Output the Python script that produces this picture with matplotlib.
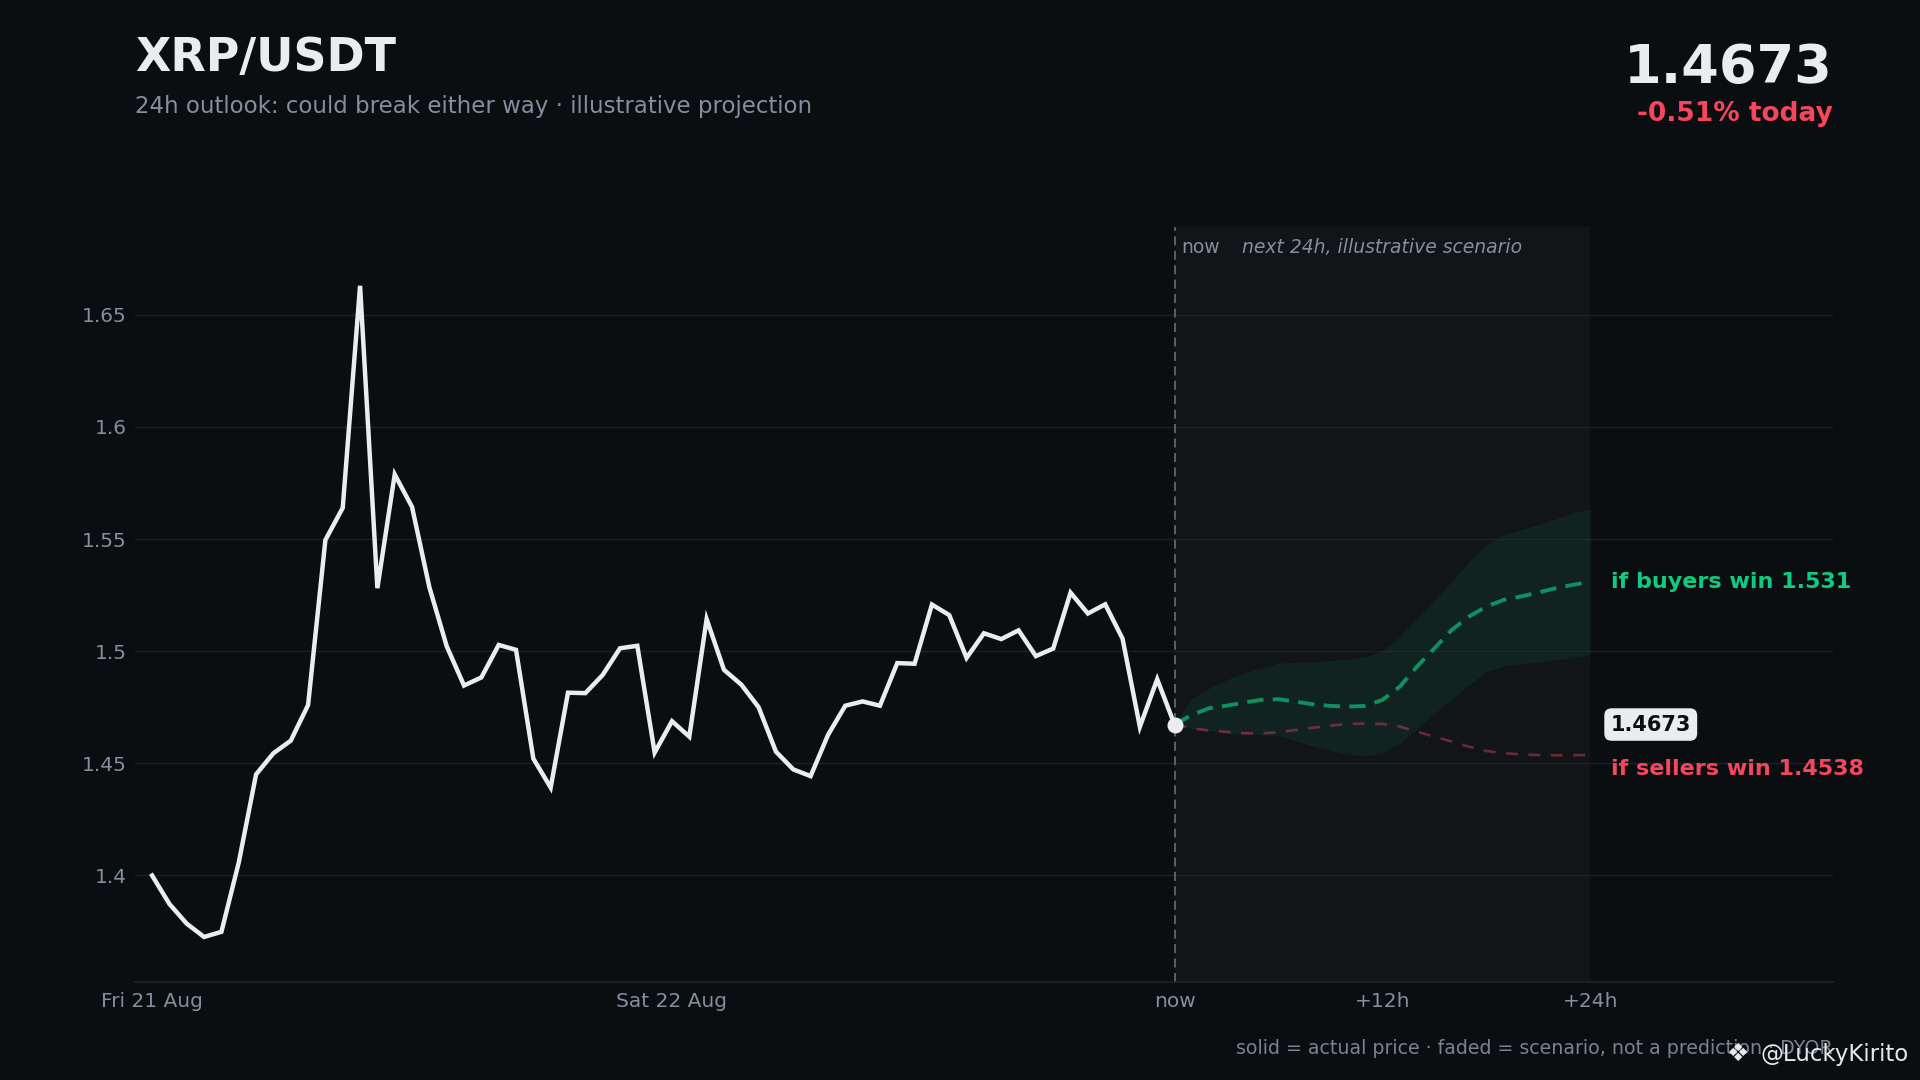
import numpy as np
import matplotlib
matplotlib.use("Agg")
import matplotlib.pyplot as plt
import matplotlib.transforms as mtransforms

# ---------------- data ----------------
price = [1.4000, 1.3873, 1.3785, 1.3726, 1.3749, 1.4058, 1.4451, 1.4545, 1.4601, 1.4760,
         1.5496, 1.5639, 1.6629, 1.5281, 1.5788, 1.5643, 1.5285, 1.5022, 1.4847, 1.4883,
         1.5028, 1.5006, 1.4521, 1.4392, 1.4815, 1.4813, 1.4894, 1.5013, 1.5024, 1.4548,
         1.4688, 1.4619, 1.5143, 1.4917, 1.4851, 1.4750, 1.4552, 1.4473, 1.4443, 1.4626,
         1.4757, 1.4776, 1.4757, 1.4947, 1.4944, 1.5208, 1.5161, 1.4970, 1.5080, 1.5054,
         1.5093, 1.4978, 1.5012, 1.5261, 1.5168, 1.5209, 1.5056, 1.4663, 1.4875, 1.4673]
price_hours = list(range(-59, 1))

future_hours = list(range(0, 25))
buyers = [1.4673, 1.4716, 1.4746, 1.4757, 1.4771, 1.4783, 1.4786, 1.4775, 1.4763, 1.4756,
          1.4753, 1.4756, 1.4783, 1.4842, 1.4932, 1.5013, 1.5095, 1.5155, 1.5199, 1.5229,
          1.5244, 1.5262, 1.5281, 1.5296, 1.5310]
sellers = [1.4673, 1.4656, 1.4646, 1.4640, 1.4634, 1.4634, 1.4638, 1.4649, 1.4659, 1.4668,
           1.4676, 1.4677, 1.4676, 1.4664, 1.4641, 1.4619, 1.4597, 1.4574, 1.4555, 1.4545,
           1.4540, 1.4537, 1.4536, 1.4536, 1.4538]
band_upper = [1.4673, 1.4790, 1.4835, 1.4872, 1.4902, 1.4924, 1.4946, 1.4951, 1.4954, 1.4958,
              1.4964, 1.4972, 1.5001, 1.5065, 1.5147, 1.5229, 1.5311, 1.5400, 1.5475, 1.5519,
              1.5542, 1.5564, 1.5589, 1.5616, 1.5634]
band_lower = [1.4673, 1.4656, 1.4646, 1.4637, 1.4631, 1.4628, 1.4622, 1.4601, 1.4577, 1.4557,
              1.4542, 1.4533, 1.4545, 1.4589, 1.4656, 1.4723, 1.4786, 1.4850, 1.4909, 1.4935,
              1.4943, 1.4952, 1.4961, 1.4972, 1.4984]

x_tick_pos = [-59, -29, 0, 12, 24]
x_tick_labels = ["Fri 21 Aug", "Sat 22 Aug", "now", "+12h", "+24h"]
y_tick_pos = [1.40, 1.45, 1.50, 1.55, 1.60, 1.65]
y_tick_labels = ["1.4", "1.45", "1.5", "1.55", "1.6", "1.65"]

symbol = "XRP/USDT"
subtitle = "24h outlook: could break either way · illustrative projection"
last_price = "1.4673"
change_text = "-0.51% today"
buyers_label = "if buyers win 1.531"
sellers_label = "if sellers win 1.4538"
footer = "solid = actual price · faded = scenario, not a prediction · DYOR"

# ---------------- style ----------------
BG = "#0b0e11"
GREY = "#848e9c"
WHITE = "#eaecef"
GREEN = "#0ecb81"
RED = "#f6465d"

plt.rcParams["font.family"] = ["DejaVu Sans"]

fig = plt.figure(figsize=(19.2, 10.8), dpi=100, facecolor=BG)
ax = fig.add_axes([0.0702, 0.0907, 0.8845, 0.6995])
ax.set_facecolor(BG)

ax.set_xlim(-60, 38)
ax.set_ylim(1.3525, 1.6893)

# grid
ax.set_yticks(y_tick_pos)
ax.set_yticklabels(y_tick_labels)
ax.set_xticks(x_tick_pos)
ax.set_xticklabels(x_tick_labels)
ax.grid(axis="y", color="#1b2026", linewidth=1.0)
ax.set_axisbelow(True)
ax.tick_params(axis="both", length=0, labelsize=14.5, labelcolor=GREY)
ax.tick_params(axis="y", pad=6)
ax.tick_params(axis="x", pad=7)
for s in ["top", "right", "left"]:
    ax.spines[s].set_visible(False)
ax.spines["bottom"].set_color("#1f242a")
ax.spines["bottom"].set_linewidth(1.2)

# future shaded region
ax.axvspan(future_hours[0], future_hours[-1], color="white", alpha=0.03, lw=0, zorder=0.5)
ax.axvline(0, color="#5e6673", lw=1.3, ls=(0, (5, 3)), zorder=1)

# scenario band and lines
ax.fill_between(future_hours, band_lower, band_upper, color=GREEN, alpha=0.08, lw=0, zorder=1.5)
ax.plot(future_hours, sellers, color=RED, alpha=0.4, lw=1.9, ls=(0, (4.5, 4)), zorder=2)
ax.plot(future_hours, buyers, color=GREEN, alpha=0.65, lw=2.8, ls=(0, (4.2, 2.4)), zorder=2.2)

# actual price
ax.plot(price_hours, price, color=WHITE, lw=3.2, solid_joinstyle="miter", zorder=3)
ax.plot([price_hours[-1]], [price[-1]], "o", color=WHITE, ms=10.5, zorder=4)

# annotations inside plot
trans = mtransforms.blended_transform_factory(ax.transData, ax.transAxes)
ax.annotate("now", xy=(0, 0.9724), xycoords=trans, xytext=(4.5, 0), textcoords="offset points",
            ha="left", va="center", fontsize=13.5, color=GREY)
ax.annotate("next 24h, illustrative scenario", xy=(0, 0.9724), xycoords=trans,
            xytext=(48.5, 0), textcoords="offset points",
            ha="left", va="center", fontsize=13.5, color=GREY, style="italic")

ax.annotate(buyers_label, xy=(future_hours[-1], buyers[-1]), xytext=(15, 0),
            textcoords="offset points", ha="left", va="center",
            fontsize=16, fontweight="bold", color=GREEN, annotation_clip=False)
ax.annotate(sellers_label, xy=(future_hours[-1], sellers[-1]), xytext=(15, -10.5),
            textcoords="offset points", ha="left", va="center",
            fontsize=16, fontweight="bold", color=RED, annotation_clip=False)
ax.annotate(last_price, xy=(future_hours[-1], price[-1]), xytext=(14.5, 0),
            textcoords="offset points", ha="left", va="center",
            fontsize=15, fontweight="bold", color="#0b0e11", annotation_clip=False,
            bbox=dict(boxstyle="round,pad=0.3,rounding_size=0.35", fc=WHITE, ec="none"))

# header
fig.text(0.0702, 0.934, symbol, ha="left", va="baseline", fontsize=33,
         fontweight="bold", color=WHITE)
fig.text(0.0702, 0.895, subtitle, ha="left", va="baseline", fontsize=16.5, color=GREY)
fig.text(0.9547, 0.923, last_price, ha="right", va="baseline", fontsize=39,
         fontweight="bold", color=WHITE)
fig.text(0.9547, 0.888, change_text, ha="right", va="baseline", fontsize=19,
         fontweight="bold", color=RED)

# footer
fig.text(0.9547, 0.0295, footer, ha="right", va="center", fontsize=13.7, color="#7a828e")
fig.text(0.9055, 0.024, "❖", ha="center", va="center", fontsize=18, color="#e6e8ea")
fig.text(0.917, 0.024, "@LuckyKirito", ha="left", va="center", fontsize=16.5, color="#e6e8ea")

fig.savefig("out.png", dpi=100, facecolor=BG)
